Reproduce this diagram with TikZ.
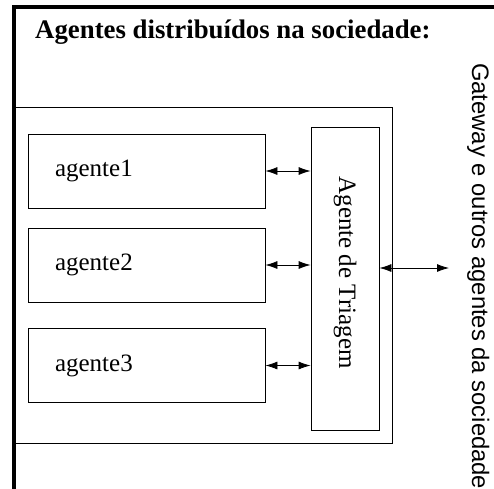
\documentclass[tikz,border=0pt]{standalone}
\usepackage{fontspec}
\setmainfont{Liberation Serif}
\newfontfamily\gatewayfont{Liberation Sans}
\usetikzlibrary{arrows.meta,positioning}
\tikzset{
	basic/.style  = {draw, thin, rectangle, inner sep=0pt},
	agent/.style  = {basic, line width=0.8pt, text width=183pt, inner xsep=27pt,
		minimum height=74pt, align=left, font=\fontsize{25}{30}\selectfont},
	sorter/.style = {basic, line width=0.8pt, rotate=-90, minimum width=303pt,
		minimum height=68pt, font=\fontsize{25}{30}\selectfont},
	frame/.style  = {line width=4pt},
	link/.style   = {<->, line width=0.8pt}
}

\begin{document}
\begin{tikzpicture}[x=1pt, y=-1pt,
>={Latex[length=12pt,width=8pt]}]

\useasboundingbox (0,0) rectangle (494,488);

% outer frame of the society, only two sides visible
\draw[frame] (14,490) -- (14,7) -- (496,7);
\node[anchor=base west, inner sep=0pt, font=\fontsize{26.8}{32}\selectfont\bfseries]
	(title) at (35,38) {Agentes distribuídos na sociedade:};

% inner group
\node[basic, line width=0.8pt, minimum width=377pt, minimum height=336pt] (group) at (203.5,275) {};

% the three agents
\node[agent] (a1) at (146.5,171) {agente1};
\node[agent] (a2) at (146.5,265) {agente2};
\node[agent] (a3) at (146.5,365.5) {agente3};

% triage agent
\node[sorter] (tri) at (345,278.5) {Agente de Triagem\rule{12pt}{0pt}};

% links between agents and the triage agent
\draw[link] (a1.east) -- (a1.east -| tri.south);
\draw[link] (a2.east) -- (a2.east -| tri.south);
\draw[link] (a3.east) -- (a3.east -| tri.south);

% outside of the group
\node[rotate=-90, anchor=base west, inner sep=0pt, font=\gatewayfont\fontsize{23.8}{28}\selectfont]
	(gw) at (472,63) {Gateway e outros agentes da sociedade};
\coordinate (gwend) at (449,268);
\draw[link] (tri.north |- gwend) -- (gwend);

\end{tikzpicture}
\end{document}
